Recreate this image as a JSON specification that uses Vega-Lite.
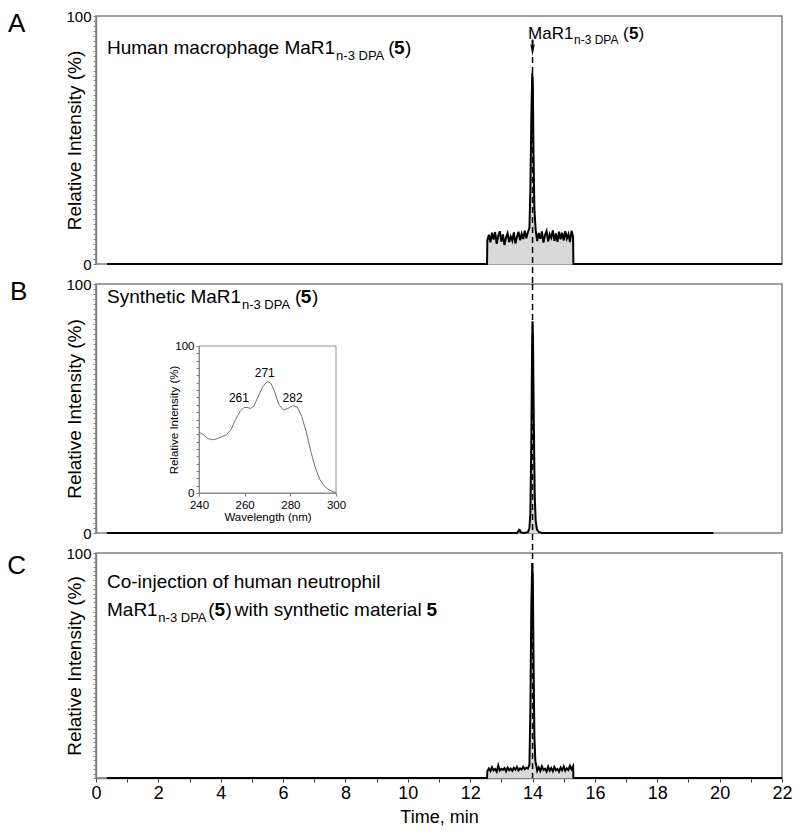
{
  "$schema": "https://vega.github.io/schema/vega-lite/v6.json",
  "padding": {"left": 6, "top": 8, "right": 12, "bottom": 5},
  "background": "white",
  "config": {
    "font": "Liberation Sans",
    "text": {"font": "Liberation Sans", "color": "#000"},
    "axis": {"labelFont": "Liberation Sans", "titleFont": "Liberation Sans", "grid": false, "labelColor": "#000", "titleColor": "#000", "titleFontWeight": "normal"},
    "view": {"stroke": "#808080", "strokeWidth": 1.5}
  },
  "datasets": {
    "A": [
      {"t": 0.35, "v": 0}, {"t": 12.54, "v": 0}, {"t": 12.55, "v": 9.5}, {"t": 12.6, "v": 11.8}, {"t": 12.65, "v": 8.7}, {"t": 12.7, "v": 12.6}, {"t": 12.75, "v": 9.9}, {"t": 12.8, "v": 12.9}, {"t": 12.85, "v": 8.1}, {"t": 12.9, "v": 11.4}, {"t": 12.95, "v": 13.2}, {"t": 13.0, "v": 9.0}, {"t": 13.05, "v": 11.9}, {"t": 13.1, "v": 7.6}, {"t": 13.15, "v": 10.8}, {"t": 13.2, "v": 12.4}, {"t": 13.25, "v": 8.8}, {"t": 13.3, "v": 11.1}, {"t": 13.35, "v": 9.4}, {"t": 13.4, "v": 12.7}, {"t": 13.45, "v": 8.3}, {"t": 13.5, "v": 10.9}, {"t": 13.55, "v": 13.0}, {"t": 13.6, "v": 9.6}, {"t": 13.65, "v": 12.2}, {"t": 13.7, "v": 10.1}, {"t": 13.75, "v": 13.4}, {"t": 13.8, "v": 10.4}, {"t": 13.85, "v": 12.8}, {"t": 13.9, "v": 14.5}, {"t": 13.93, "v": 30}, {"t": 13.96, "v": 58}, {"t": 13.99, "v": 77}, {"t": 14.01, "v": 72}, {"t": 14.03, "v": 45}, {"t": 14.06, "v": 22}, {"t": 14.1, "v": 13.6}, {"t": 14.15, "v": 9.2}, {"t": 14.2, "v": 12.5}, {"t": 14.25, "v": 10.2}, {"t": 14.3, "v": 13.1}, {"t": 14.35, "v": 8.6}, {"t": 14.4, "v": 11.7}, {"t": 14.45, "v": 13.3}, {"t": 14.5, "v": 9.1}, {"t": 14.55, "v": 12.0}, {"t": 14.6, "v": 10.6}, {"t": 14.65, "v": 13.5}, {"t": 14.7, "v": 9.3}, {"t": 14.75, "v": 12.3}, {"t": 14.8, "v": 8.9}, {"t": 14.85, "v": 13.0}, {"t": 14.9, "v": 10.0}, {"t": 14.95, "v": 12.6}, {"t": 15.0, "v": 9.5}, {"t": 15.05, "v": 13.2}, {"t": 15.1, "v": 10.3}, {"t": 15.15, "v": 12.1}, {"t": 15.2, "v": 8.8}, {"t": 15.25, "v": 13.4}, {"t": 15.3, "v": 11.0}, {"t": 15.31, "v": 0}, {"t": 22, "v": 0}
    ],
    "B": [
      {"t": 0.35, "v": 0}, {"t": 13.5, "v": 0}, {"t": 13.54, "v": 0.6}, {"t": 13.57, "v": 1.3}, {"t": 13.6, "v": 1.0}, {"t": 13.63, "v": 0.2}, {"t": 13.7, "v": 0}, {"t": 13.85, "v": 0.3}, {"t": 13.9, "v": 2}, {"t": 13.93, "v": 8}, {"t": 13.96, "v": 35}, {"t": 13.985, "v": 75}, {"t": 14.0, "v": 85}, {"t": 14.015, "v": 78}, {"t": 14.04, "v": 45}, {"t": 14.07, "v": 15}, {"t": 14.1, "v": 5}, {"t": 14.14, "v": 1.5}, {"t": 14.2, "v": 0.4}, {"t": 14.3, "v": 0}, {"t": 19.8, "v": 0}
    ],
    "C": [
      {"t": 0.35, "v": 0}, {"t": 12.54, "v": 0}, {"t": 12.55, "v": 3.0}, {"t": 12.6, "v": 4.2}, {"t": 12.65, "v": 3.1}, {"t": 12.7, "v": 4.8}, {"t": 12.75, "v": 3.4}, {"t": 12.8, "v": 4.0}, {"t": 12.85, "v": 2.8}, {"t": 12.9, "v": 5.6}, {"t": 12.95, "v": 3.3}, {"t": 13.0, "v": 4.1}, {"t": 13.05, "v": 3.6}, {"t": 13.1, "v": 4.4}, {"t": 13.15, "v": 3.0}, {"t": 13.2, "v": 4.6}, {"t": 13.25, "v": 3.5}, {"t": 13.3, "v": 4.2}, {"t": 13.35, "v": 3.2}, {"t": 13.4, "v": 4.5}, {"t": 13.45, "v": 3.7}, {"t": 13.5, "v": 4.9}, {"t": 13.55, "v": 3.4}, {"t": 13.6, "v": 4.3}, {"t": 13.65, "v": 3.8}, {"t": 13.7, "v": 5.0}, {"t": 13.75, "v": 3.9}, {"t": 13.8, "v": 4.6}, {"t": 13.85, "v": 4.2}, {"t": 13.9, "v": 6}, {"t": 13.93, "v": 30}, {"t": 13.96, "v": 75}, {"t": 13.99, "v": 95.5}, {"t": 14.01, "v": 88}, {"t": 14.03, "v": 55}, {"t": 14.06, "v": 18}, {"t": 14.09, "v": 7.5}, {"t": 14.12, "v": 5.5}, {"t": 14.15, "v": 3.2}, {"t": 14.2, "v": 4.7}, {"t": 14.25, "v": 3.1}, {"t": 14.3, "v": 5.2}, {"t": 14.35, "v": 3.6}, {"t": 14.4, "v": 4.1}, {"t": 14.45, "v": 2.9}, {"t": 14.5, "v": 5.0}, {"t": 14.55, "v": 3.3}, {"t": 14.6, "v": 4.4}, {"t": 14.65, "v": 3.0}, {"t": 14.7, "v": 4.9}, {"t": 14.75, "v": 3.5}, {"t": 14.8, "v": 4.0}, {"t": 14.85, "v": 2.8}, {"t": 14.9, "v": 4.6}, {"t": 14.95, "v": 3.4}, {"t": 15.0, "v": 5.1}, {"t": 15.05, "v": 3.2}, {"t": 15.1, "v": 4.3}, {"t": 15.15, "v": 3.6}, {"t": 15.2, "v": 5.4}, {"t": 15.25, "v": 3.9}, {"t": 15.3, "v": 5.2}, {"t": 15.31, "v": 0}, {"t": 22, "v": 0}
    ],
    "uv": [
      {"nm": 240, "I": 41.5}, {"nm": 242, "I": 39.5}, {"nm": 244, "I": 37}, {"nm": 246, "I": 36.2}, {"nm": 248, "I": 37}, {"nm": 250, "I": 38.3}, {"nm": 252, "I": 39.6}, {"nm": 254, "I": 43}, {"nm": 256, "I": 50}, {"nm": 258, "I": 55.5}, {"nm": 259.5, "I": 58}, {"nm": 261, "I": 58.3}, {"nm": 262.5, "I": 57.5}, {"nm": 264, "I": 59}, {"nm": 266, "I": 66}, {"nm": 268, "I": 72.5}, {"nm": 270, "I": 76}, {"nm": 271.5, "I": 74.5}, {"nm": 273, "I": 69.5}, {"nm": 275, "I": 60}, {"nm": 277, "I": 56.5}, {"nm": 279, "I": 57.5}, {"nm": 281, "I": 59.5}, {"nm": 283, "I": 58.5}, {"nm": 285, "I": 52}, {"nm": 287, "I": 41.5}, {"nm": 289, "I": 28}, {"nm": 291, "I": 17}, {"nm": 293, "I": 9}, {"nm": 295, "I": 4.5}, {"nm": 297, "I": 2}, {"nm": 300, "I": 0}
    ]
  },
  "spacing": 20,
  "bounds": "flush",
  "vconcat": [
    {
      "width": 686, "height": 248,
      "encoding": {
        "x": {"type": "quantitative", "scale": {"domain": [0, 22], "nice": false, "zero": false}, "axis": {"title": null, "labels": false, "ticks": false, "domain": false, "grid": false}},
        "y": {"type": "quantitative", "scale": {"domain": [0, 100], "nice": false, "zero": false},
          "axis": {"title": "Relative Intensity (%)", "values": [0,2,4,6,8,10,12,14,16,18,20,22,24,26,28,30,32,34,36,38,40,42,44,46,48,50,52,54,56,58,60,62,64,66,68,70,72,74,76,78,80,82,84,86,88,90,92,94,96,98,100],
            "labelExpr": "(datum.value == 0 || datum.value == 100) ? datum.label : ''", "labelOverlap": false, "labelFlush": false,
            "tickSize": 3, "tickColor": "#808080", "tickWidth": 1, "domainColor": "#808080", "domainWidth": 1.5,
            "labelFontSize": 15, "labelPadding": 2, "titleFontSize": 19, "titleX": -16, "titleBaseline": "alphabetic"}}
      },
      "layer": [
        {"data": {"name": "A"}, "transform": [{"filter": "datum.t >= 12.5 && datum.t <= 15.32"}], "mark": {"type": "area", "color": "#d9d9d9"}, "encoding": {"x": {"field": "t"}, "y": {"field": "v"}}},
        {"data": {"name": "A"}, "mark": {"type": "line", "color": "#000", "strokeWidth": 2}, "encoding": {"x": {"field": "t"}, "y": {"field": "v"}}},
        {"data": {"values": [{}]}, "mark": {"type": "rule", "strokeDash": [6, 4], "strokeWidth": 1.5, "color": "#000"}, "encoding": {"x": {"datum": 14}, "y": {"datum": 83.5}, "y2": {"datum": -8.5}}},
        {"data": {"values": [{}]}, "mark": {"type": "rule", "strokeWidth": 2, "color": "#000"}, "encoding": {"x": {"datum": 14}, "y": {"datum": 90.5}, "y2": {"datum": 87}}},
        {"data": {"values": [{}]}, "mark": {"type": "point", "shape": "M-0.38,-1L0,-0.65L0.38,-1L0,1Z", "size": 144, "filled": true, "color": "#000", "opacity": 1}, "encoding": {"x": {"datum": 14}, "y": {"datum": 86.3}}},
        {"data": {"values": [{}]}, "mark": {"type": "text", "text": "A", "align": "left", "baseline": "alphabetic", "fontSize": 26}, "encoding": {"x": {"datum": -2.82}, "y": {"datum": 93.5}}},
        {"data": {"values": [{}]}, "mark": {"type": "text", "text": "Human macrophage MaR1", "align": "left", "baseline": "alphabetic", "fontSize": 19}, "encoding": {"x": {"datum": 0.353}, "y": {"datum": 84.7}}},
        {"data": {"values": [{}]}, "mark": {"type": "text", "text": "n-3 DPA", "align": "left", "baseline": "alphabetic", "fontSize": 13}, "encoding": {"x": {"datum": 7.7}, "y": {"datum": 82.3}}},
        {"data": {"values": [{}]}, "mark": {"type": "text", "text": "(", "align": "left", "baseline": "alphabetic", "fontSize": 19}, "encoding": {"x": {"datum": 9.37}, "y": {"datum": 84.7}}},
        {"data": {"values": [{}]}, "mark": {"type": "text", "text": "5", "align": "left", "baseline": "alphabetic", "fontSize": 19, "fontWeight": "bold"}, "encoding": {"x": {"datum": 9.56}, "y": {"datum": 84.7}}},
        {"data": {"values": [{}]}, "mark": {"type": "text", "text": ")", "align": "left", "baseline": "alphabetic", "fontSize": 19}, "encoding": {"x": {"datum": 9.91}, "y": {"datum": 84.7}}},
        {"data": {"values": [{}]}, "mark": {"type": "text", "text": "MaR1", "align": "left", "baseline": "alphabetic", "fontSize": 17}, "encoding": {"x": {"datum": 13.855}, "y": {"datum": 90.7}}},
        {"data": {"values": [{}]}, "mark": {"type": "text", "text": "n-3 DPA", "align": "left", "baseline": "alphabetic", "fontSize": 12}, "encoding": {"x": {"datum": 15.33}, "y": {"datum": 88.7}}},
        {"data": {"values": [{}]}, "mark": {"type": "text", "text": "(", "align": "left", "baseline": "alphabetic", "fontSize": 17}, "encoding": {"x": {"datum": 16.9}, "y": {"datum": 90.7}}},
        {"data": {"values": [{}]}, "mark": {"type": "text", "text": "5", "align": "left", "baseline": "alphabetic", "fontSize": 17, "fontWeight": "bold"}, "encoding": {"x": {"datum": 17.09}, "y": {"datum": 90.7}}},
        {"data": {"values": [{}]}, "mark": {"type": "text", "text": ")", "align": "left", "baseline": "alphabetic", "fontSize": 17}, "encoding": {"x": {"datum": 17.4}, "y": {"datum": 90.7}}}
      ]
    },
    {
      "width": 686, "height": 249,
      "layer": [
        {
          "encoding": {
            "x": {"type": "quantitative", "scale": {"domain": [0, 22], "nice": false, "zero": false}, "axis": {"orient": "bottom", "title": null, "labels": false, "ticks": false, "domain": false, "grid": false}},
            "y": {"type": "quantitative", "scale": {"domain": [0, 100], "nice": false, "zero": false},
              "axis": {"orient": "left", "title": "Relative Intensity (%)", "values": [0,2,4,6,8,10,12,14,16,18,20,22,24,26,28,30,32,34,36,38,40,42,44,46,48,50,52,54,56,58,60,62,64,66,68,70,72,74,76,78,80,82,84,86,88,90,92,94,96,98,100],
                "labelExpr": "(datum.value == 0 || datum.value == 100) ? datum.label : ''", "labelOverlap": false, "labelFlush": false,
                "tickSize": 3, "tickColor": "#808080", "tickWidth": 1, "domainColor": "#808080", "domainWidth": 1.5,
                "labelFontSize": 15, "labelPadding": 2, "titleFontSize": 19, "titleX": -16, "titleBaseline": "alphabetic"}}
          },
          "layer": [
            {"data": {"name": "B"}, "transform": [{"filter": "datum.t >= 13.8 && datum.t <= 14.3"}], "mark": {"type": "area", "color": "#d9d9d9"}, "encoding": {"x": {"field": "t"}, "y": {"field": "v"}}},
            {"data": {"name": "B"}, "mark": {"type": "line", "color": "#000", "strokeWidth": 2}, "encoding": {"x": {"field": "t"}, "y": {"field": "v"}}},
            {"data": {"values": [{}]}, "mark": {"type": "rule", "strokeDash": [6, 4], "strokeWidth": 1.5, "color": "#000"}, "encoding": {"x": {"datum": 14}, "y": {"datum": 100}, "y2": {"datum": -8}}},
            {"data": {"values": [{}]}, "mark": {"type": "text", "text": "B", "align": "left", "baseline": "alphabetic", "fontSize": 26}, "encoding": {"x": {"datum": -2.76}, "y": {"datum": 93.6}}},
            {"data": {"values": [{}]}, "mark": {"type": "text", "text": "Synthetic MaR1", "align": "left", "baseline": "alphabetic", "fontSize": 19}, "encoding": {"x": {"datum": 0.353}, "y": {"datum": 92.4}}},
            {"data": {"values": [{}]}, "mark": {"type": "text", "text": "n-3 DPA", "align": "left", "baseline": "alphabetic", "fontSize": 13}, "encoding": {"x": {"datum": 4.68}, "y": {"datum": 90.0}}},
            {"data": {"values": [{}]}, "mark": {"type": "text", "text": "(", "align": "left", "baseline": "alphabetic", "fontSize": 19}, "encoding": {"x": {"datum": 6.38}, "y": {"datum": 92.4}}},
            {"data": {"values": [{}]}, "mark": {"type": "text", "text": "5", "align": "left", "baseline": "alphabetic", "fontSize": 19, "fontWeight": "bold"}, "encoding": {"x": {"datum": 6.57}, "y": {"datum": 92.4}}},
            {"data": {"values": [{}]}, "mark": {"type": "text", "text": ")", "align": "left", "baseline": "alphabetic", "fontSize": 19}, "encoding": {"x": {"datum": 6.93}, "y": {"datum": 92.4}}}
          ]
        },
        {
          "encoding": {
            "x": {"type": "quantitative", "scale": {"domain": [240, 300], "range": [103, 240], "nice": false, "zero": false},
              "axis": {"orient": "bottom", "offset": -40, "title": "Wavelength (nm)", "values": [240, 260, 280, 300], "tickSize": 3, "labelFontSize": 11.5, "titleFontSize": 11.5, "labelPadding": 3, "titlePadding": 1, "domainColor": "#808080", "tickColor": "#808080", "labelFlush": false, "labelOverlap": false}},
            "y": {"type": "quantitative", "scale": {"domain": [0, 100], "range": [209, 62], "nice": false, "zero": false},
              "axis": {"orient": "left", "offset": -103, "title": "Relative Intensity (%)", "values": [0,5,10,15,20,25,30,35,40,45,50,55,60,65,70,75,80,85,90,95,100],
                "labelExpr": "(datum.value == 0 || datum.value == 100) ? datum.label : ''", "labelOverlap": false, "labelFlush": false,
                "tickSize": 3, "tickColor": "#808080", "domainColor": "#808080", "labelFontSize": 11.5, "labelPadding": 2, "titleFontSize": 11.5, "titleX": -22, "titleBaseline": "alphabetic"}}
          },
          "layer": [
            {"data": {"values": [{}]}, "mark": {"type": "rect", "fillOpacity": 0, "stroke": "#909090", "strokeWidth": 1}, "encoding": {"x": {"datum": 240}, "x2": {"datum": 300}, "y": {"datum": 0}, "y2": {"datum": 100}}},
            {"data": {"name": "uv"}, "mark": {"type": "line", "color": "#707070", "strokeWidth": 1}, "encoding": {"x": {"field": "nm"}, "y": {"field": "I"}}},
            {"data": {"values": [{}]}, "mark": {"type": "text", "text": "261", "align": "center", "baseline": "alphabetic", "fontSize": 12}, "encoding": {"x": {"datum": 257.5}, "y": {"datum": 61.7}}},
            {"data": {"values": [{}]}, "mark": {"type": "text", "text": "271", "align": "center", "baseline": "alphabetic", "fontSize": 12}, "encoding": {"x": {"datum": 268.8}, "y": {"datum": 79}}},
            {"data": {"values": [{}]}, "mark": {"type": "text", "text": "282", "align": "center", "baseline": "alphabetic", "fontSize": 12}, "encoding": {"x": {"datum": 281}, "y": {"datum": 61.7}}}
          ]
        }
      ],
      "resolve": {"scale": {"x": "independent", "y": "independent"}, "axis": {"x": "independent", "y": "independent"}}
    },
    {
      "width": 686, "height": 225,
      "encoding": {
        "x": {"type": "quantitative", "scale": {"domain": [0, 22], "nice": false, "zero": false},
          "axis": {"title": "Time, min", "values": [0,1,2,3,4,5,6,7,8,9,10,11,12,13,14,15,16,17,18,19,20,21,22],
            "labelExpr": "datum.value % 2 == 0 ? datum.label : ''", "labelOverlap": false, "labelFlush": false,
            "tickSize": 4, "tickColor": "#404040", "domainColor": "#808080", "domainWidth": 1.5,
            "labelFontSize": 18, "labelPadding": 2, "titleFontSize": 18, "titlePadding": 6}},
        "y": {"type": "quantitative", "scale": {"domain": [0, 100], "nice": false, "zero": false},
          "axis": {"title": "Relative Intensity (%)", "values": [0,2,4,6,8,10,12,14,16,18,20,22,24,26,28,30,32,34,36,38,40,42,44,46,48,50,52,54,56,58,60,62,64,66,68,70,72,74,76,78,80,82,84,86,88,90,92,94,96,98,100],
            "labelExpr": "datum.value == 100 ? datum.label : ''", "labelOverlap": false, "labelFlush": false,
            "tickSize": 3, "tickColor": "#808080", "tickWidth": 1, "domainColor": "#808080", "domainWidth": 1.5,
            "labelFontSize": 15, "labelPadding": 2, "titleFontSize": 19, "titleX": -16, "titleBaseline": "alphabetic"}}
      },
      "layer": [
        {"data": {"name": "C"}, "transform": [{"filter": "datum.t >= 12.5 && datum.t <= 15.32"}], "mark": {"type": "area", "color": "#d9d9d9"}, "encoding": {"x": {"field": "t"}, "y": {"field": "v"}}},
        {"data": {"name": "C"}, "mark": {"type": "line", "color": "#000", "strokeWidth": 2}, "encoding": {"x": {"field": "t"}, "y": {"field": "v"}}},
        {"data": {"values": [{}]}, "mark": {"type": "rule", "strokeDash": [6, 4], "strokeWidth": 1.5, "color": "#000"}, "encoding": {"x": {"datum": 14}, "y": {"datum": 100}, "y2": {"datum": 0}}},
        {"data": {"values": [{}]}, "mark": {"type": "text", "text": "C", "align": "left", "baseline": "alphabetic", "fontSize": 26}, "encoding": {"x": {"datum": -2.85}, "y": {"datum": 90.7}}},
        {"data": {"values": [{}]}, "mark": {"type": "text", "text": "Co-injection of human neutrophil", "align": "left", "baseline": "alphabetic", "fontSize": 19}, "encoding": {"x": {"datum": 0.353}, "y": {"datum": 84.4}}},
        {"data": {"values": [{}]}, "mark": {"type": "text", "text": "MaR1", "align": "left", "baseline": "alphabetic", "fontSize": 19}, "encoding": {"x": {"datum": 0.353}, "y": {"datum": 72.0}}},
        {"data": {"values": [{}]}, "mark": {"type": "text", "text": "n-3 DPA", "align": "left", "baseline": "alphabetic", "fontSize": 13}, "encoding": {"x": {"datum": 2.0}, "y": {"datum": 69.3}}},
        {"data": {"values": [{}]}, "mark": {"type": "text", "text": "(", "align": "left", "baseline": "alphabetic", "fontSize": 19}, "encoding": {"x": {"datum": 3.6}, "y": {"datum": 72.0}}},
        {"data": {"values": [{}]}, "mark": {"type": "text", "text": "5", "align": "left", "baseline": "alphabetic", "fontSize": 19, "fontWeight": "bold"}, "encoding": {"x": {"datum": 3.8}, "y": {"datum": 72.0}}},
        {"data": {"values": [{}]}, "mark": {"type": "text", "text": ")", "align": "left", "baseline": "alphabetic", "fontSize": 19}, "encoding": {"x": {"datum": 4.15}, "y": {"datum": 72.0}}},
        {"data": {"values": [{}]}, "mark": {"type": "text", "text": "with synthetic material", "align": "left", "baseline": "alphabetic", "fontSize": 19}, "encoding": {"x": {"datum": 4.45}, "y": {"datum": 72.0}}},
        {"data": {"values": [{}]}, "mark": {"type": "text", "text": "5", "align": "left", "baseline": "alphabetic", "fontSize": 19, "fontWeight": "bold"}, "encoding": {"x": {"datum": 10.6}, "y": {"datum": 72.0}}}
      ]
    }
  ]
}
